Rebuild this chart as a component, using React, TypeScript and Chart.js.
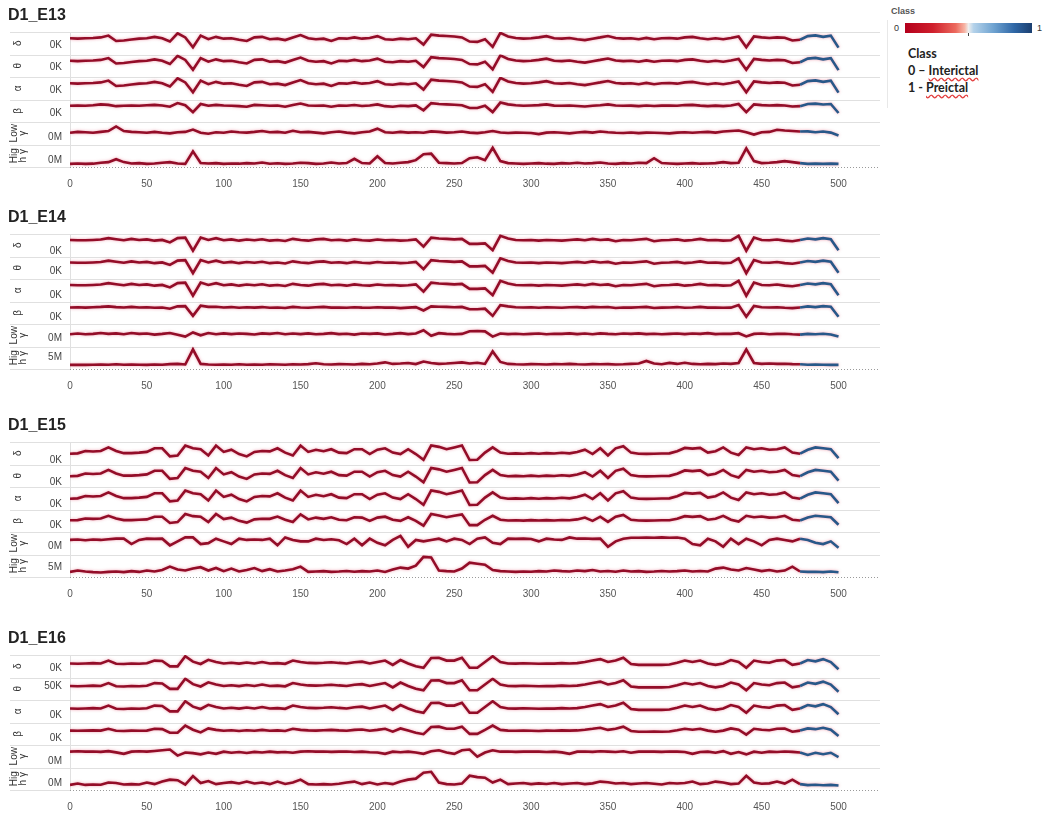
import { useEffect, useRef } from 'react';
import { Chart, registerables } from 'chart.js';

Chart.register(...registerables);

// ---------- data ----------
const xs = [
  0, 5, 10, 15, 20, 25, 30, 35, 40, 45, 50, 55, 60, 65, 70, 75, 80, 85, 90, 95,
  100, 105, 110, 115, 120, 125, 130, 135, 140, 145, 150, 155, 160, 165, 170, 175, 180, 185, 190, 195,
  200, 205, 210, 215, 220, 225, 230, 235, 240, 245, 250, 255, 260, 265, 270, 275, 280, 285, 290, 295,
  300, 305, 310, 315, 320, 325, 330, 335, 340, 345, 350, 355, 360, 365, 370, 375, 380, 385, 390, 395,
  400, 405, 410, 415, 420, 425, 430, 435, 440, 445, 450, 455, 460, 465, 470, 475, 480, 485, 490, 495,
  500,
];
const xTicks = [0, 50, 100, 150, 200, 250, 300, 350, 400, 450, 500];
const xMax = 527;
const preictalStart = 475;

const rowTitles = [['δ'], ['θ'], ['α'], ['β'], ['Low', 'γ'], ['Hig', 'h γ']];

// D1_E13
const e13Delta = [
  7, 6.8, 7, 7.2, 7.5, 8.5, 5.5, 5.8, 6.3, 6.8,
  7, 7.8, 7, 5.2, 9.8, 7.5, 2, 8.5, 6.5, 7.8,
  6.8, 7, 6.2, 5.5, 7.5, 7.8, 6.5, 6.8, 6, 7.5,
  8.8, 7, 6.5, 6.8, 5.5, 7, 6.8, 7.5, 6.8, 7.2,
  8.2, 6.5, 6.2, 6.8, 6.5, 7, 3.5, 9, 8.5, 8.3,
  8, 7.5, 5.2, 5, 6.5, 2.2, 10, 8, 7.2, 6.8,
  7, 7.5, 8.2, 7, 6.8, 7.2, 6.5, 6, 6.8, 7.5,
  8.3, 7.2, 6.8, 7, 6.5, 7.2, 6.5, 7, 7.2, 6.8,
  7.5, 7.8, 7, 6.5, 7, 6.5, 7.2, 8, 2, 8,
  7.5, 7.2, 7.5, 7.3, 5.8, 6.2, 8.2, 8.6, 7.8, 8.5,
  1.8,
];
const e13Beta = [
  7, 7.2, 7, 7.3, 7.8, 7.5, 6.8, 7, 7.2, 7,
  7.3, 7.5, 7.2, 6.5, 8.5, 7.3, 3.5, 8, 7, 7.5,
  7.2, 7, 6.8, 6.5, 7.5, 7.3, 7, 7.2, 6.5, 7.5,
  8.3, 7.2, 7, 7.2, 6.5, 7.2, 7, 7.4, 6.9, 7.2,
  7.8, 6.8, 6.5, 7, 6.8, 7.2, 4.5, 8.5, 8, 7.8,
  7.6, 7.3, 5.8, 5.8, 7, 3.5, 8.8, 7.8, 7.3, 7,
  7.2, 7.4, 7.8, 7.1, 7, 7.2, 6.9, 6.6, 7, 7.3,
  7.8, 7.2, 7, 7.1, 6.8, 7.2, 6.9, 7.1, 7.2, 7,
  7.4, 7.5, 7.1, 6.8, 7.1, 6.8, 7.2, 8, 3.5, 7.8,
  7.4, 7.2, 7.4, 7.2, 6.6, 6.8, 8, 8.2, 7.7, 8,
  3,
];
const e13LowGamma = [
  4.5, 5, 4.8, 4.5, 5, 5.5, 8, 5.5, 5, 4.8,
  4.5, 5, 4.5, 4.2, 4.8, 5, 6.3, 4.5, 4, 4.8,
  4.5, 5.2, 4.8, 4.6, 5, 5.5, 4.8, 5, 4.5, 5.6,
  4.8, 5, 4.6, 4.2, 4.8, 5.2, 4.6, 4.2, 4.8, 5.2,
  6.8, 4.8, 4.5, 5, 4.6, 4.8, 4.5, 5.3, 5, 4.6,
  4.8, 5.2, 4.6, 4.3, 4.8, 5.5, 4.7, 4.4, 4.6, 4.5,
  4.4, 3.8, 4.6, 4.8, 4.5, 4.2, 4.7, 5, 4.6, 5.2,
  4.8, 4.5, 4.4, 4.7, 4.3, 4.6, 4.5, 4.4, 4.2, 4.6,
  4.8, 4.5, 4.8, 5, 4.6, 5.2, 5.5, 5.8, 4.8, 3.5,
  4.8, 5, 6.2, 5.8, 5.5, 5.2, 5.3, 4.8, 5.2, 4.6,
  3,
];
const e13HighGamma = [
  0.6, 0.8, 0.6, 0.7, 1.2, 1.5, 3, 1.5, 0.8, 1,
  0.6, 0.8, 1.2, 1.5, 0.8, 0.6, 7, 1, 0.8, 1,
  0.6, 0.8, 0.7, 1, 0.8, 1.3, 0.7, 0.9, 0.6, 0.8,
  1.2, 1, 0.6, 0.8, 1.3, 0.8, 1, 3.2, 1, 0.8,
  4.5, 1, 0.8, 1.2, 1.5, 2.5, 5.5, 5.8, 1.2, 1,
  0.8, 1, 3.5, 4, 2.5, 8.8, 2, 1, 0.8, 0.6,
  0.8, 1, 0.7, 0.6, 1, 0.8, 1.2, 0.8, 1, 1.3,
  0.8, 0.6, 1, 0.8, 1.2, 1, 3.5, 1, 0.8, 0.6,
  0.8, 1, 0.7, 0.8, 1, 1.5, 1, 1.2, 8.5, 2,
  1, 1.2, 1.5, 2, 1.5, 1, 0.6, 0.7, 0.6, 0.7,
  0.6,
];

// D1_E14
const e14Delta = [
  7.2, 7, 7, 7.2, 7.4, 8.2, 7.6, 7, 7.8, 7.2,
  7.5, 6.8, 7.2, 5.8, 8.2, 8.5, 1.2, 8.5, 7.2, 8.2,
  7, 7.5, 6.8, 7.4, 7, 7.6, 6.8, 7.2, 6.6, 7.8,
  7.2, 6.8, 7.5, 7.8, 7, 7.3, 6.8, 7.5, 7, 6.8,
  7.4, 7, 7.2, 6.8, 7, 7.5, 3.5, 8.5, 8, 7.8,
  7.5, 7.8, 5, 5, 5.3, 1.5, 9.5, 8, 7.2, 7,
  7.2, 6.8, 7.2, 7, 6.8, 7.2, 7.5, 7, 7.8, 7.2,
  7.5, 6.5, 7.2, 7, 7.4, 7.8, 6.5, 7, 7.2, 7.5,
  6.8, 7.2, 7.8, 7, 7.2, 6.8, 7, 9.5, 1.2, 8.5,
  7.2, 7, 7.4, 6.8, 6.5, 7.2, 8, 7.5, 8.2, 7.6,
  1.5,
];
const e14Beta = [
  7.2, 7.3, 7.1, 7.3, 7.5, 7.8, 7.4, 7.2, 7.5, 7.2,
  7.3, 7, 7.2, 6.5, 7.8, 7.9, 2.5, 8.2, 7.5, 7.6,
  7.2, 7.4, 7, 7.3, 7.1, 7.4, 7, 7.2, 6.9, 7.5,
  7.2, 7, 7.3, 7.5, 7.1, 7.2, 7, 7.3, 7.1, 7,
  7.3, 7.1, 7.2, 6.8, 7.1, 7.4, 5.5, 7.8, 7.6, 7.5,
  7.3, 7.5, 6.2, 6.2, 6.5, 2.5, 8.5, 7.8, 7.3, 7.2,
  7.3, 7, 7.3, 7.2, 7, 7.3, 7.4, 7.1, 7.5, 7.3,
  7.4, 6.9, 7.2, 7.1, 7.3, 7.5, 6.9, 7.1, 7.2, 7.4,
  7, 7.2, 7.5, 7.1, 7.2, 7, 7.1, 8.5, 2, 8,
  7.3, 7.2, 7.3, 7, 6.8, 7.2, 7.8, 7.4, 7.9, 7.6,
  2,
];
const e14LowGamma = [
  4.8, 5.2, 4.8, 5, 5.5, 5, 5.3, 4.8, 5.5, 5,
  5.2, 4.6, 5, 5.5, 4.5, 3.5, 5.8, 4.2, 5.5, 4.8,
  5.3, 4.9, 5.2, 5, 4.7, 5.3, 5, 5.5, 4.8, 5.2,
  4.9, 5.3, 4.8, 5, 5.4, 4.9, 5.1, 4.6, 5.2, 5,
  5.3, 4.7, 5, 5.4, 4.9, 5.2, 7, 4, 5.4, 5,
  4.8, 5, 6.5, 6.6, 6.4, 3.5, 5.2, 4.9, 5.1, 4.8,
  5, 5.2, 4.8, 5.1, 5, 5.3, 4.9, 5.2, 4.8, 5.3,
  5, 4.8, 5.2, 5, 5.3, 4.9, 5.1, 4.8, 5, 5.2,
  4.9, 5.2, 5, 5.4, 4.9, 5.1, 5, 5.4, 3.6, 5,
  5.2, 4.8, 5, 5.1, 4.8, 4.6, 5, 4.8, 5.1, 4.7,
  3.5,
];
const e14HighGamma = [
  1.1, 1.2, 1.1, 1.2, 1.3, 1.2, 1.4, 1.2, 1.3, 1.2,
  1.1, 1.3, 1.2, 1.5, 1.6, 1.3, 9, 1.6, 1.3, 1.2,
  1.3, 1.2, 1.4, 1.2, 1.3, 1.2, 1.4, 1.3, 1.2, 1.4,
  1.3, 1.5, 1.9, 1.4, 1.3, 1.5, 1.4, 1.3, 1.6, 1.4,
  1.8, 2.4, 1.6, 1.8, 2.1, 1.5, 2.8, 2.1, 1.6, 1.8,
  2.1, 2.4, 1.8, 2.2, 1.6, 8, 2.6, 1.6, 1.4, 1.3,
  1.5, 1.4, 1.3, 1.5, 1.4, 1.6, 1.4, 1.3, 1.5, 1.4,
  1.5, 1.3, 1.4, 1.6, 1.8, 3.1, 1.8, 1.4, 2.1, 1.6,
  2.2, 1.6, 1.4, 1.6, 1.5, 1.8, 1.6, 2.1, 9, 2.1,
  1.6, 1.8, 1.6, 1.7, 1.5, 1.4, 1.2, 1.3, 1.2, 1.1,
  1.1,
];

// D1_E15
const e15Delta = [
  4, 4.2, 5.5, 5.2, 5.5, 7.5, 5.5, 4.3, 4.3, 4.6,
  5, 7, 7, 2.5, 3, 8.5, 7, 6.5, 3, 8.5,
  5, 6.2, 3.8, 2.5, 5, 5.5, 5.3, 7, 4.6, 3,
  8.5, 5, 6.2, 5.4, 6.5, 4.6, 4.3, 6.5, 6.5, 3.8,
  6.2, 7, 4.6, 3.8, 6.5, 3.8, 0.6, 8.6, 7.8, 6.5,
  7.5, 8.6, 0.5, 0.6, 4.6, 7.5, 4.6, 4, 4.2, 4,
  4.3, 4, 4.3, 4.1, 4.5, 4.2, 4.9, 6.2, 3.8, 7,
  3, 7, 8.2, 4.6, 4, 3.9, 4, 4.1, 4.2, 5.4,
  7.2, 6.8, 7.2, 4.6, 5.4, 7.5, 4.6, 3.3, 7.5, 6.5,
  7, 6.2, 6.5, 7.5, 4.6, 4, 6.2, 7.5, 7, 6.5,
  1.5,
];
const e15Beta = [
  4.5, 4.6, 5.5, 5.3, 5.5, 7, 5.5, 4.6, 4.6, 4.8,
  5, 6.5, 6.5, 3, 3.5, 8, 6.8, 6.5, 3.5, 8,
  5.2, 6, 4.2, 3.2, 5, 5.4, 5.3, 6.6, 4.8, 3.6,
  7.8, 5, 6, 5.3, 6.2, 4.8, 4.5, 6.2, 6, 4.2,
  6, 6.5, 4.8, 4.2, 6.2, 4.2, 1.5, 8, 7.2, 6.2,
  7, 7.8, 1.8, 1.8, 4.8, 7, 4.8, 4.4, 4.5, 4.3,
  4.6, 4.4, 4.6, 4.4, 4.7, 4.5, 5, 6, 4.2, 6.5,
  3.6, 6.5, 7.5, 4.8, 4.4, 4.3, 4.4, 4.5, 4.5, 5.4,
  6.8, 6.4, 6.8, 4.8, 5.4, 7, 4.8, 3.8, 7, 6.2,
  6.6, 6, 6.2, 7, 4.8, 4.4, 6, 7, 6.6, 6.2,
  2,
];
const e15LowGamma = [
  6.1, 6.3, 5.9, 6.3, 6.1, 6.5, 6.8, 6.8, 3.8, 6.1,
  6.8, 6.7, 6.8, 3.1, 5.3, 7.5, 7.5, 3.8, 4.3, 6.8,
  5.3, 3.8, 6.8, 6.1, 6.3, 6.1, 6.8, 3.1, 7.5, 6.1,
  5.3, 5.3, 6.8, 6.1, 6.5, 5.9, 3.8, 6.8, 3.1, 6.8,
  4.5, 3.1, 6.1, 8.3, 2.3, 6.1, 5.3, 6.1, 6.8, 5.3,
  6.8, 6.1, 3.8, 6.8, 7.5, 4.5, 3.8, 6.8, 6.7, 6.8,
  6.6, 5.3, 6.8, 6.3, 6.1, 7.5, 6.8, 6.9, 6.7, 6.8,
  2.3, 5.3, 6.8, 7.3, 7.3, 7.4, 7.3, 7.5, 7.3, 7.4,
  6.8, 3.8, 3.1, 6.8, 5.3, 2.3, 6.8, 3.8, 6.8, 5.3,
  3.1, 6.1, 6.8, 6.1, 5.3, 6.8, 6.1, 4.5, 3.8, 5.3,
  1.8,
];
const e15HighGamma = [
  1.6, 2.3, 1.8, 1.5, 1.3, 1.6, 1.8, 1.5, 2, 1.6,
  2.3, 1.8, 2.6, 4.3, 2.8, 2.3, 3.3, 4, 2.3, 3.6,
  2, 3.3, 1.8, 2.6, 3.6, 2, 3, 1.8, 2.3, 3,
  4.3, 1.6, 1.8, 2, 1.6, 1.8, 2.1, 1.7, 2, 1.8,
  2.3, 1.6, 2.8, 3.8, 3.3, 4.8, 9.3, 9, 2.3, 2,
  1.8, 3.3, 6.3, 5.8, 5.3, 2.6, 2, 1.8, 1.6, 1.8,
  1.7, 2, 1.8, 2.3, 2, 1.8, 2.3, 2, 2.6, 1.8,
  2.1, 1.7, 2.3, 1.8, 2, 1.6, 1.8, 2.1, 1.8, 2,
  2.3, 1.8, 2.1, 1.8, 3.3, 3.8, 2.8, 2.3, 3.6, 2.8,
  2, 2.6, 1.8, 2.3, 4.3, 1.8, 1.6, 1.7, 1.5, 1.8,
  1.4,
];

// D1_E16
const e16Delta = [
  5.8, 5.6, 5.8, 6, 5.8, 7.4, 5.6, 5.5, 5.8, 5.6,
  5.9, 7.4, 7.2, 4.2, 4.2, 9.8, 6.8, 5.5, 7.8, 6.6,
  5.8, 6.2, 5.7, 6.3, 5.8, 6.6, 5.8, 6, 5.6, 7.4,
  6.6, 6.1, 6, 6.2, 6.5, 6.1, 5.8, 6.5, 6.8, 5.8,
  6.6, 7.4, 5, 7.7, 5.8, 4.2, 3.4, 8.8, 9, 7.4,
  7.4, 9, 3.4, 3.4, 6.6, 9.8, 6.6, 5.8, 5.7, 5.9,
  5.8, 5.6, 5.8, 5.7, 6, 5.8, 6, 6.6, 7.4, 8.2,
  6.6, 7.4, 9, 5.5, 5, 5, 5.1, 5, 5.2, 6.2,
  7.4, 6.6, 7.4, 5.8, 5, 5.8, 7.7, 6.6, 3.4, 7.4,
  6.6, 6.2, 7.4, 7.7, 5, 5.8, 7.7, 7, 8.2, 6.6,
  2.6,
];
const e16Beta = [
  6, 5.9, 6, 6.1, 6, 7, 5.9, 5.8, 6, 5.9,
  6, 7, 6.8, 4.8, 4.8, 8.8, 6.5, 5, 7.2, 6.4,
  5.9, 6.2, 5.8, 6.2, 5.9, 6.4, 5.9, 6.1, 5.8, 7,
  6.4, 6.1, 6, 6.2, 6.4, 6.1, 5.9, 6.4, 6.6, 5.9,
  6.4, 7, 5.4, 7.2, 6, 4.8, 4, 8, 8.2, 7,
  7, 8.2, 4.2, 4.2, 6.4, 8.8, 6.4, 6, 5.9, 6,
  5.9, 5.8, 6, 5.9, 6.1, 6, 6.1, 6.5, 7, 7.6,
  6.4, 7, 8.2, 5.8, 5.4, 5.4, 5.5, 5.4, 5.5, 6.2,
  7, 6.5, 7, 6, 5.4, 6, 7.2, 6.5, 3.8, 7,
  6.5, 6.2, 7, 7.2, 5.4, 6, 7.2, 6.8, 7.6, 6.5,
  3,
];
const e16LowGamma = [
  6.8, 7, 6.8, 6.9, 6.7, 7.1, 6.4, 5.6, 6.8, 7,
  6.8, 7.2, 7.6, 8, 4.6, 6.3, 6, 5.3, 6.3, 5.6,
  6.8, 6.2, 6.6, 6.1, 6.7, 6.3, 6.8, 6.4, 6.6, 6.2,
  6.8, 7, 6.8, 6.9, 6.7, 6.8, 6.9, 6.6, 6.8, 6.5,
  6.3, 5.6, 6.8, 6.5, 6.8, 6.3, 5.6, 7, 7.6, 6.3,
  5.6, 7.6, 8, 4, 6.3, 7.6, 6.8, 6.9, 6.7, 6.8,
  6.9, 6.8, 6.6, 6.8, 6.4, 5.6, 6.8, 6.9, 6.7, 7,
  6.8, 6.6, 7, 6.2, 6.8, 6.9, 6.8, 6.7, 6.9, 6.8,
  6.6, 5.6, 6.6, 6.8, 6.2, 7.1, 5.6, 6.6, 5.3, 6.8,
  6.2, 6.8, 6.6, 6.9, 6.7, 6.3, 5, 6.2, 5.4, 6.2,
  3.8,
];
const e16HighGamma = [
  1.6, 2.3, 1.6, 1.8, 1.7, 2.8, 2.6, 1.8, 2, 1.8,
  2.8, 2, 3.3, 4.3, 4, 1.8, 6.1, 2.6, 3.6, 2,
  2.6, 3, 2.3, 3.3, 2.3, 2.8, 2, 3.3, 2.1, 2.8,
  4.3, 2, 1.8, 2, 1.8, 2.2, 2.8, 3.3, 2, 2.8,
  1.8, 2.6, 2, 3.3, 4.3, 4.8, 7.8, 8.3, 2.8, 2,
  1.8, 2.3, 6.3, 5.6, 5.3, 2.8, 4.3, 2, 2.3, 2.6,
  2, 2.4, 2.1, 2.6, 2, 2.3, 2.6, 2, 2.4, 3.3,
  3, 2.3, 2.6, 2, 2.3, 2.6, 2.2, 1.8, 2.6, 2.3,
  2.6, 3.3, 2, 2.3, 3.3, 2.8, 2, 2.3, 6.3, 2.8,
  2.2, 2.4, 3.3, 2.3, 4.3, 2, 1.5, 1.7, 1.4, 1.6,
  1.3,
];

const panelNames = ['D1_E13', 'D1_E14', 'D1_E15', 'D1_E16'];
const panelSeries = [
  [e13Delta, e13Delta, e13Delta, e13Beta, e13LowGamma, e13HighGamma],
  [e14Delta, e14Delta, e14Delta, e14Beta, e14LowGamma, e14HighGamma],
  [e15Delta, e15Delta, e15Delta, e15Beta, e15LowGamma, e15HighGamma],
  [e16Delta, e16Delta, e16Delta, e16Beta, e16LowGamma, e16HighGamma],
];
const panelTickLabels = [
  ['0K', '0K', '0K', '0K', '0M', '0M'],
  ['0K', '0K', '0K', '0K', '0M', '5M'],
  ['0K', '0K', '0K', '0K', '0M', '5M'],
  ['0K', '50K', '0K', '0K', '0M', '0M'],
];
const panelTickValues = [
  [3.4, 3.6, 2.9, 2.9, 1.8, 2.4],
  [1.1, 2.4, 1.3, 1.6, 2.6, 5.0],
  [0.5, 0.5, 0.8, 1.5, 2.4, 4.2],
  [2.9, 5.4, 1.8, 2.0, 1.5, 2.3],
];

// ---------- layout / style ----------
const rowsTop = [32, 234, 442, 655];
const canvasW = 882;
const canvasH = 203;
const red = '#930d28';
const blue = '#285889';
const fontFamily = '"Liberation Sans", Arial, sans-serif';

const decorPlugin = {
  id: 'decor',
  beforeDraw(chart: any) {
    const { ctx, chartArea, scales } = chart;
    ctx.save();
    ctx.strokeStyle = '#e0e0e0';
    ctx.lineWidth = 1;
    Object.values(scales).forEach((s: any) => {
      if (s.axis !== 'y') return;
      const y = Math.round(s.top) + 0.5;
      ctx.beginPath();
      ctx.moveTo(10, y);
      ctx.lineTo(chartArea.right, y);
      ctx.stroke();
    });
    const yb = Math.round(chartArea.bottom) + 0.5;
    ctx.beginPath();
    ctx.moveTo(10, yb);
    ctx.lineTo(chartArea.left, yb);
    ctx.stroke();
    ctx.beginPath();
    ctx.moveTo(Math.round(chartArea.left) + 0.5, chartArea.top);
    ctx.lineTo(Math.round(chartArea.left) + 0.5, chartArea.bottom);
    ctx.stroke();
    ctx.setLineDash([1, 2]);
    ctx.strokeStyle = '#9a9a9a';
    ctx.beginPath();
    ctx.moveTo(chartArea.left, yb);
    ctx.lineTo(chartArea.right, yb);
    ctx.stroke();
    ctx.restore();
  },
  beforeDatasetDraw(chart: any) {
    const ctx = chart.ctx;
    ctx.save();
    ctx.shadowColor = 'rgba(225, 70, 100, 0.5)';
    ctx.shadowBlur = 3;
  },
  afterDatasetDraw(chart: any) {
    chart.ctx.restore();
  },
};

function Panel({ index }: { index: number }) {
  const ref = useRef<HTMLCanvasElement>(null);
  useEffect(() => {
    Chart.defaults.font.family = fontFamily;
    const series = panelSeries[index];
    const tickLabels = panelTickLabels[index];
    const tickValues = panelTickValues[index];
    const scales: any = {
      x: {
        type: 'linear',
        min: 0,
        max: xMax,
        grid: { display: false, drawTicks: false },
        border: { display: false },
        afterBuildTicks: (s: any) => {
          s.ticks = xTicks.map((v) => ({ value: v }));
        },
        ticks: { font: { size: 10 }, color: '#555', padding: 11, maxRotation: 0, autoSkip: false },
      },
    };
    rowTitles.forEach((t, r) => {
      scales['y' + r] = {
        type: 'linear',
        position: 'left',
        stack: 'rows',
        stackWeight: 1,
        weight: 10 - r,
        min: r === 5 ? -1 : -2,
        max: 10.5,
        grid: { display: false, drawTicks: false },
        border: { display: false },
        afterBuildTicks: (s: any) => {
          s.ticks = [{ value: tickValues[r] }];
        },
        afterFit: (s: any) => {
          s.width = 62;
        },
        ticks: {
          callback: () => tickLabels[r],
          font: { size: 10 },
          color: '#444',
          padding: 8,
          autoSkip: false,
        },
        title: {
          display: true,
          text: t,
          color: '#333',
          font: { size: 10, lineHeight: 0.9 },
          padding: t.length > 1 ? 1.5 : 5.5,
        },
      };
    });
    const datasets = series.map((vals, r) => ({
      data: xs.map((x, i) => ({ x, y: vals[i] })),
      yAxisID: 'y' + r,
      borderColor: red,
      borderWidth: 2.6,
      pointRadius: 0,
      tension: 0,
      segment: {
        borderColor: (c: any) => (c.p0.parsed.x >= preictalStart ? blue : red),
      },
    }));
    const chart = new Chart(ref.current as HTMLCanvasElement, {
      type: 'line',
      data: { datasets },
      options: {
        animation: false,
        responsive: false,
        maintainAspectRatio: false,
        layout: { padding: { left: 8, right: 2, top: 0, bottom: 2 } },
        plugins: {
          legend: { display: false },
          tooltip: { enabled: false },
          title: {
            display: true,
            text: panelNames[index],
            align: 'start',
            color: '#222',
            font: { size: 16, weight: 'bold', family: fontFamily, lineHeight: 1.1 },
            padding: { top: 7, bottom: 7.4 },
          },
        },
        scales,
      } as any,
      plugins: [decorPlugin],
    });
    return () => chart.destroy();
  }, [index]);
  return (
    <canvas
      ref={ref}
      width={canvasW}
      height={canvasH}
      style={{ position: 'absolute', left: 0, top: rowsTop[index] - 32, width: canvasW, height: canvasH }}
    />
  );
}

const wavy: any = {
  textDecorationLine: 'underline',
  textDecorationStyle: 'wavy',
  textDecorationColor: '#e23b3b',
  textUnderlineOffset: '2px',
};

export default function App() {
  return (
    <div
      style={{
        position: 'fixed',
        left: 0,
        top: 0,
        width: 1046,
        height: 816,
        background: '#fff',
        overflow: 'hidden',
      }}
    >
      {panelNames.map((_, i) => (
        <Panel key={i} index={i} />
      ))}
      <div style={{ position: 'absolute', left: 887, top: 20, width: 1, height: 88, background: '#e8e8e8' }} />
      <div style={{ position: 'absolute', left: 891, top: 6, font: 'bold 9px "Liberation Sans", Arial, sans-serif', color: '#555' }}>
        Class
      </div>
      <div style={{ position: 'absolute', left: 894, top: 23, font: '9px "Liberation Sans", Arial, sans-serif', color: '#333' }}>0</div>
      <div
        style={{
          position: 'absolute',
          left: 905,
          top: 23,
          width: 127,
          height: 10,
          background:
            'linear-gradient(to right, #b4001c 0%, #cf1f2c 22%, #ec6a5e 40%, #f7b6a6 47%, #eeeeee 50%, #b4d2ea 54%, #6ea2d0 70%, #2f67a6 86%, #1b3f70 100%)',
        }}
      />
      <div style={{ position: 'absolute', left: 968, top: 33, width: 1, height: 3, background: '#444' }} />
      <div style={{ position: 'absolute', left: 1037, top: 23, font: '9px "Liberation Sans", Arial, sans-serif', color: '#333' }}>1</div>
      <div
        style={{
          position: 'absolute',
          left: 908,
          top: 45,
          font: 'bold 12.5px Lato, "Open Sans", sans-serif',
          lineHeight: '17px',
          color: '#222',
          whiteSpace: 'nowrap',
        }}
      >
        <div>Class</div>
        <div>
          0 – <span style={wavy}>Interictal</span>
        </div>
        <div>
          1 - <span style={wavy}>Preictal</span>
        </div>
      </div>
    </div>
  );
}
